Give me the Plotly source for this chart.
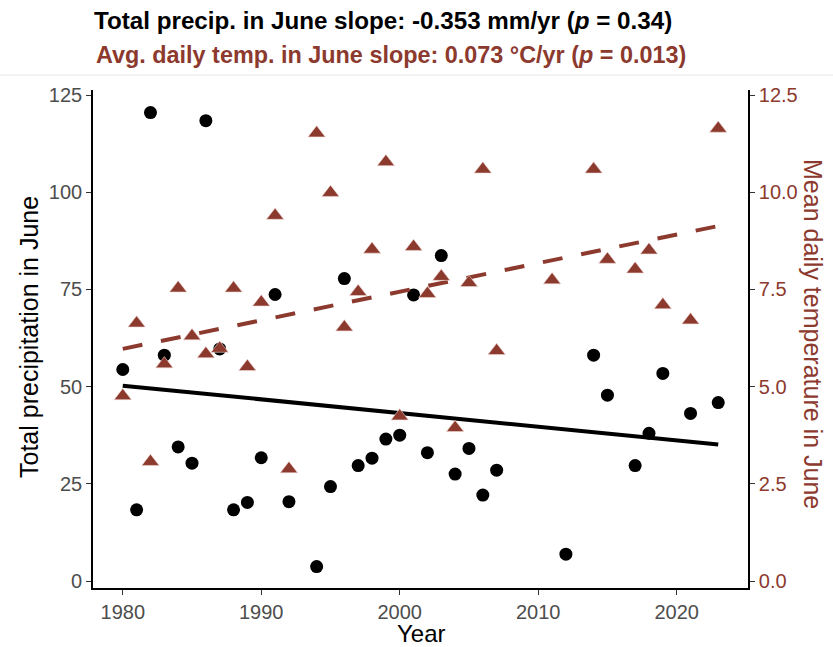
import numpy as np
import plotly.graph_objects as go

# ---- data ----
precip_years = [1980, 1981, 1982, 1983, 1984, 1985, 1986, 1987, 1988, 1989, 1990, 1991, 1992,
                1994, 1995, 1996, 1997, 1998, 1999, 2000, 2001, 2002, 2003, 2004, 2005, 2006,
                2007, 2012, 2014, 2015, 2017, 2018, 2019, 2021, 2023]
precip_vals = [54.4, 18.3, 120.5, 58.1, 34.5, 30.3, 118.4, 59.7, 18.3, 20.2, 31.7, 73.7, 20.4,
               3.7, 24.3, 77.8, 29.7, 31.6, 36.5, 37.5, 73.6, 33.0, 83.7, 27.5, 34.1, 22.1,
               28.5, 6.9, 58.1, 47.8, 29.7, 38.0, 53.4, 43.1, 45.9]

temp_years = [1980, 1981, 1982, 1983, 1984, 1985, 1986, 1987, 1988, 1989, 1990, 1991, 1992,
              1994, 1995, 1996, 1997, 1998, 1999, 2000, 2001, 2002, 2003, 2004, 2005, 2006,
              2007, 2011, 2014, 2015, 2017, 2018, 2019, 2021, 2023]
temp_vals = [4.76, 6.63, 3.07, 5.58, 7.53, 6.30, 5.84, 5.98, 7.53, 5.51, 7.17, 9.40, 2.88,
             11.52, 9.99, 6.53, 7.44, 8.53, 10.78, 4.24, 8.60, 7.39, 7.83, 3.94, 7.67, 10.59,
             5.92, 7.74, 10.59, 8.27, 8.02, 8.51, 7.10, 6.71, 11.64]

x_ticks = [1980, 1990, 2000, 2010, 2020]
y_ticks = [0, 25, 50, 75, 100, 125]
y2_ticks = [0.0, 2.5, 5.0, 7.5, 10.0, 12.5]

title1 = "Total precip. in June slope: -0.353 mm/yr (<i>p</i> = 0.34)"
title2 = "Avg. daily temp. in June slope: 0.073 °C/yr (<i>p</i> = 0.013)"

BROWN = "#8C392E"
FONT = "Liberation Sans, Arial, sans-serif"

# fitted trend lines
pp = np.polyfit(precip_years, precip_vals, 1)
tp = np.polyfit(temp_years, temp_vals, 1)
px_line = [min(precip_years), max(precip_years)]
tx_line = [min(temp_years), max(temp_years)]

fig = go.Figure()

fig.add_trace(go.Scatter(x=px_line, y=np.polyval(pp, px_line), mode="lines",
                         line=dict(color="black", width=4), yaxis="y", showlegend=False))
fig.add_trace(go.Scatter(x=tx_line, y=np.polyval(tp, tx_line), mode="lines",
                         line=dict(color=BROWN, width=4, dash="20px,19px"), yaxis="y2",
                         showlegend=False))
fig.add_trace(go.Scatter(x=precip_years, y=precip_vals, mode="markers",
                         marker=dict(color="black", size=13, symbol="circle",
                                     line=dict(width=0)), yaxis="y", showlegend=False))
fig.add_trace(go.Scatter(x=temp_years, y=temp_vals, mode="markers",
                         marker=dict(color=BROWN, size=15, symbol="triangle-up",
                                     line=dict(width=0.6, color="#F0D8D4")),
                         yaxis="y2", showlegend=False))

L, R, T, B = 93, 85, 90, 59
W, H = 833, 647
PW = W - L - R
PH = H - T - B

axis_common = dict(showgrid=False, zeroline=False, showline=True, linecolor="black",
                   linewidth=1.6, ticks="outside", ticklen=5, tickcolor="#333333",
                   tickwidth=1.2)

fig.update_layout(
    width=W, height=H,
    margin=dict(l=L, r=R, t=T, b=B),
    paper_bgcolor="white", plot_bgcolor="white",
    font=dict(family=FONT),
    xaxis=dict(range=[1977.85, 2025.15], tickvals=x_ticks,
               tickfont=dict(size=20, color="#4D4D4D"), **axis_common),
    yaxis=dict(range=[-1.8, 126.3], tickvals=y_ticks,
               tickfont=dict(size=20, color="#4D4D4D"), **axis_common),
    yaxis2=dict(range=[-0.18, 12.63], tickvals=y2_ticks, tickformat=".1f",
                overlaying="y", side="right",
                tickfont=dict(size=20, color=BROWN), **axis_common),
)

def px2x(p):
    return (p - L) / PW

def py2y(p):
    return (H - B - p) / PH

annotations = [
    dict(text="<b>" + title1 + "</b>", x=px2x(383), y=py2y(20), yanchor="middle",
         font=dict(size=24.2, color="black")),
    dict(text="<b>" + title2 + "</b>", x=px2x(391), y=py2y(55), yanchor="middle",
         font=dict(size=23.4, color=BROWN)),
    dict(text="Year", x=px2x(421), y=py2y(633), yanchor="middle", borderpad=0,
         font=dict(size=24, color="black")),
    dict(text="Total precipitation in June", x=px2x(29), y=py2y(337), yanchor="middle",
         textangle=-90, font=dict(size=25, color="black")),
    dict(text="Mean daily temperature in June", x=px2x(813), y=py2y(334), yanchor="middle",
         textangle=90, font=dict(size=25, color=BROWN)),
]
for a in annotations:
    a.update(xref="paper", yref="paper", showarrow=False, xanchor="center")
fig.update_layout(annotations=annotations)

fig.add_shape(type="line", xref="paper", yref="paper", x0=px2x(0), x1=px2x(W),
              y0=py2y(75), y1=py2y(75), line=dict(color="#E6E6E6", width=1))

fig.write_html("out.html")
